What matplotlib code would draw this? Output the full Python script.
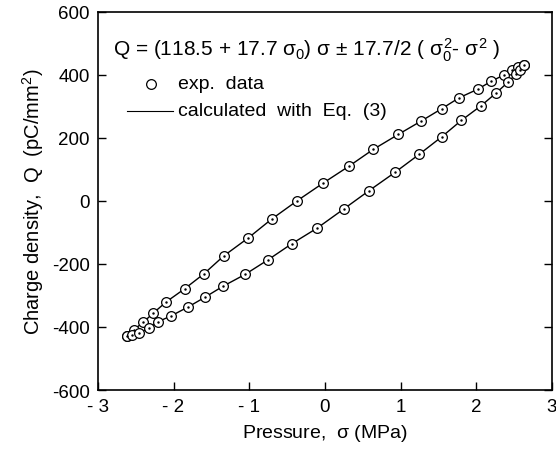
import matplotlib
matplotlib.use("Agg")
import matplotlib.pyplot as plt

plt.rcParams["font.family"] = ["Liberation Sans", "DejaVu Sans"]
plt.rcParams["mathtext.fontset"] = "custom"
plt.rcParams["mathtext.rm"] = "Liberation Sans"
plt.rcParams["mathtext.it"] = "Liberation Sans"

# upper branch (decreasing pressure side of loop)
sigma_up = [-2.610, -2.526, -2.399, -2.268, -2.094, -1.854, -1.596, -1.338,
            -1.009, -0.704, -0.362, -0.019, 0.319, 0.638, 0.972, 1.272,
            1.549, 1.775, 2.019, 2.197, 2.371, 2.469, 2.554, 2.629]
q_up = [-428, -409, -385, -356, -320, -279, -231, -175,
        -117, -58, 1, 57, 110, 163, 211, 253,
        293, 327, 354, 379, 400, 416, 424, 430]

# lower branch
sigma_lo = [-2.610, -2.554, -2.455, -2.329, -2.202, -2.033, -1.803, -1.587,
            -1.347, -1.052, -0.751, -0.437, -0.099, 0.249, 0.582, 0.925,
            1.249, 1.549, 1.803, 2.066, 2.263, 2.423, 2.521, 2.582, 2.629]
q_lo = [-428, -425, -420, -404, -383, -365, -336, -306,
        -271, -233, -187, -136, -86, -26, 32, 90,
        148, 204, 255, 302, 342, 377, 401, 416, 430]

xticks = [-3, -2, -1, 0, 1, 2, 3]
xtick_labels = ["- 3", "- 2", "- 1", "0", "1", "2", "3"]
yticks = [-600, -400, -200, 0, 200, 400, 600]
ytick_labels = ["-600", "-400", "-200", "0", "200", "400", "600"]

fig = plt.figure(figsize=(5.56, 4.56), dpi=100)
ax = fig.add_axes([0.176, 0.1425, 0.8165, 0.8296])

for s, q in [(sigma_up, q_up), (sigma_lo, q_lo)]:
    ax.plot(s, q, color="black", lw=1.0)
    ax.plot(s, q, "o", mfc="white", mec="black", ms=7, mew=0.9)
    ax.plot(s, q, ".", color="black", ms=1.5)

ax.set_xlim(-3, 3)
ax.set_ylim(-600, 600)
ax.set_xticks(xticks)
ax.set_xticklabels(xtick_labels)
ax.set_yticks(yticks)
ax.set_yticklabels(ytick_labels)
ax.tick_params(direction="in", length=6, width=1, labelsize=13.5,
               right=True, top=False, pad=6)
for sp in ax.spines.values():
    sp.set_linewidth(1.2)

ax.set_xlabel(r"Pressure,  $\sigma$ (MPa)", fontsize=14, labelpad=5)
ax.set_ylabel(r"Charge density,  Q  (pC/mm$^2$)", fontsize=14.5, labelpad=4)

ax.text(0.033, 0.90,
        r"Q = (118.5 + 17.7 $\sigma_0$) $\sigma$ $\pm$ 17.7/2 ( $\sigma_0^2$- $\sigma^2$ )",
        transform=ax.transAxes, fontsize=15, va="center", ha="left")

# hand-made legend
ax.plot([0.117], [0.809], "o", mfc="white", mec="black", ms=7, mew=0.9,
        transform=ax.transAxes)
ax.text(0.177, 0.809, "exp.  data", transform=ax.transAxes, fontsize=14,
        va="center", ha="left")
ax.plot([0.064, 0.166], [0.738, 0.738], color="black", lw=0.8,
        transform=ax.transAxes)
ax.text(0.177, 0.738, "calculated  with  Eq.  (3)", transform=ax.transAxes,
        fontsize=14, va="center", ha="left")

fig.savefig("out.png", dpi=100)
